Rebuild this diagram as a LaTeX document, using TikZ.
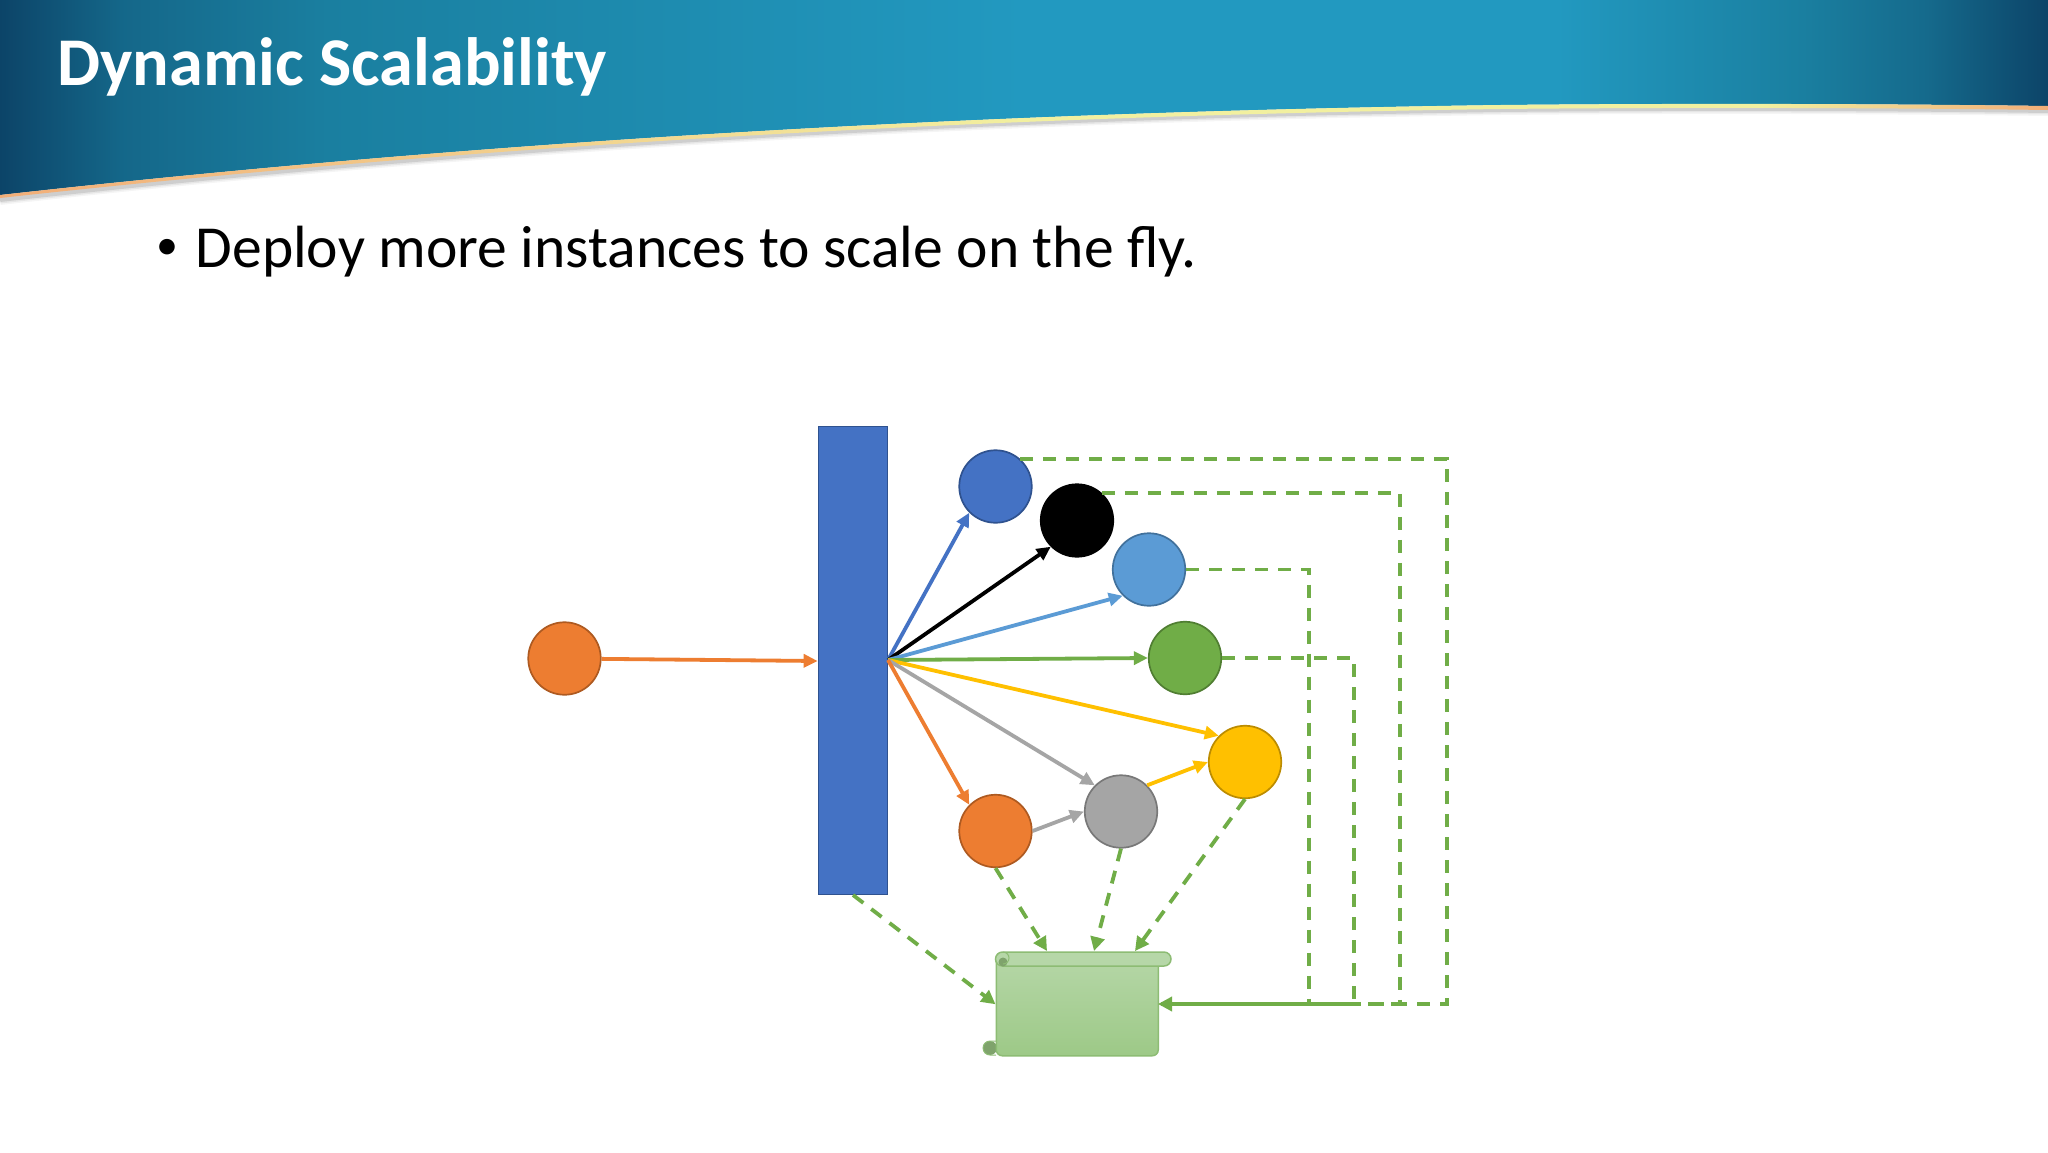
\documentclass[tikz,border=0pt]{standalone}
\usepackage{fontspec}
\setmainfont{Carlito}
\usetikzlibrary{arrows.meta,calc}
\definecolor{bandA}{HTML}{0C4468}
\definecolor{bandB}{HTML}{1A7FA0}
\definecolor{bandC}{HTML}{2299C0}
\definecolor{goldA}{HTML}{F2AE78}
\definecolor{goldB}{HTML}{F2F0A0}
\definecolor{cBlue}{HTML}{4472C4}
\definecolor{cBlueD}{HTML}{2F528F}
\definecolor{cSky}{HTML}{5B9BD5}
\definecolor{cSkyD}{HTML}{41719C}
\definecolor{cGreen}{HTML}{70AD47}
\definecolor{cGreenD}{HTML}{507E32}
\definecolor{cOrange}{HTML}{ED7D31}
\definecolor{cOrangeD}{HTML}{AE5A21}
\definecolor{cGray}{HTML}{A5A5A5}
\definecolor{cGrayD}{HTML}{787878}
\definecolor{cGold}{HTML}{FFC000}
\definecolor{cGoldD}{HTML}{BC8C00}
\definecolor{logT}{HTML}{B6D7A8}
\definecolor{logB}{HTML}{9DC987}
\definecolor{logE}{HTML}{8DBC74}
\definecolor{logC}{HTML}{7FA36C}
\pgfdeclarehorizontalshading{bandshade}{100bp}{color(0bp)=(bandA);color(25bp)=(bandA);color(28bp)=(bandB!60!bandA);color(33bp)=(bandB);color(50bp)=(bandC);color(63bp)=(bandC);color(69bp)=(bandB);color(72bp)=(bandB!65!bandA);color(75bp)=(bandA);color(100bp)=(bandA)}
\pgfdeclarehorizontalshading{goldshade}{100bp}{color(0bp)=(goldA);color(25bp)=(goldA);color(50bp)=(goldB);color(68bp)=(goldB);color(75bp)=(goldA);color(100bp)=(goldA)}
\tikzset{
  dot/.style={circle,minimum size=72.5pt,inner sep=0pt,line width=1.7pt},
  flow/.style={line width=3.8pt,-{Triangle[length=14pt,width=13pt]}},
  logflow/.style={line width=3.8pt,cGreen,dash pattern=on 13pt off 10pt,-{Triangle[length=14pt,width=14pt,sep=0pt]}},
  logline/.style={line width=3.8pt,cGreen,dash pattern=on 13pt off 10pt},
}
\begin{document}
\begin{tikzpicture}[x=1pt,y=-1pt]
\useasboundingbox (0,0) rectangle (2048,1152);
\fill[white] (0,0) rectangle (2048,1152);
% header band
\foreach \o/\op in {12/0.04,9/0.06,6/0.10}{
  \draw[black,opacity=\op,line width=\o pt] (0,199) .. controls (500,143) and (1000,116) .. (1500,109) .. controls (1700,107) and (1900,108) .. (2048,110);
}
\shade[shading=bandshade] (0,0) -- (2048,0) -- (2048,106) .. controls (1900,104) and (1700,103) .. (1500,105) .. controls (1000,112) and (500,139) .. (0,195) -- cycle;
\shade[shading=goldshade] (0,195) .. controls (500,139) and (1000,112) .. (1500,105) .. controls (1700,103) and (1900,104) .. (2048,106) -- (2048,110) .. controls (1900,108) and (1700,107) .. (1500,109) .. controls (1000,116) and (500,143) .. (0,198) -- cycle;
\node[anchor=base west,inner sep=0pt,text=white,font=\fontsize{68.3}{74}\selectfont\bfseries] (title) at (57,85) {Dynamic Scalability};
\node[anchor=base west,inner sep=0pt,text=black,font=\fontsize{44}{50}\selectfont] (bullet) at (156,259) {•};
\node[anchor=base west,inner sep=0pt,text=black,font=\fontsize{59.6}{66}\selectfont] (body) at (195.5,267) {Deploy more instances to scale on the fly.};
% nodes
\node[draw=cBlueD,fill=cBlue,line width=1.7pt,minimum width=69pt,minimum height=468pt,inner sep=0pt] (bar) at (853,660.5) {};
\node[dot,draw=cOrangeD,fill=cOrange] (src) at (564.5,658.5) {};
\node[dot,draw=cBlueD,fill=cBlue] (n1) at (995.5,486.5) {};
\node[dot,draw=black,fill=black] (n2) at (1077,520.5) {};
\node[dot,draw=cSkyD,fill=cSky] (n3) at (1149,569.5) {};
\node[dot,draw=cGreenD,fill=cGreen] (n4) at (1185,658) {};
\node[dot,draw=cGoldD,fill=cGold] (n5) at (1245,762) {};
\node[dot,draw=cGrayD,fill=cGray] (n6) at (1121,811.5) {};
\node[dot,draw=cOrangeD,fill=cOrange] (n7) at (995.5,831) {};
% log scroll
\fill[logC] (990,1048) circle (7pt);
\node[draw=logE,line width=1.5pt,top color=logT,bottom color=logB,rounded corners=6pt,minimum width=162pt,minimum height=103pt,inner sep=0pt,anchor=north west] (log) at (995.5,952) {};
\draw[logE,line width=1.5pt,fill=logT,rounded corners=7pt] (995.5,952) rectangle (1171,966);
\fill[logC] (1003,962) circle (4.5pt);
\draw[logE,line width=1pt] (1003,952) arc (90:-90:6pt);
\draw[logE,line width=1pt] (996,1041) -- (990,1041) arc (90:270:7pt) -- (996,1055);
\coordinate (fan) at (888,660);
\coordinate (c1) at (1447,1004);
\coordinate (c2) at (1400,1004);
\coordinate (c3) at (1354,1004);
\coordinate (c4) at (1309,1004);
\coordinate (logR) at (1158,1004);
\coordinate (barB) at (853,895);
% solid arrows
\draw[flow,cOrange] (src) -- (bar.west |- 0,661);
\draw[flow,cBlue] (fan) -- (n1.225);
\draw[flow,black] (fan) -- (n2.225);
\draw[flow,cSky] (fan) -- (n3.225);
\draw[flow,cGreen] (fan) -- (n4.west);
\draw[flow,cGold] (fan) -- (n5.135);
\draw[flow,cGray] (fan) -- (n6.135);
\draw[flow,cOrange] (fan) -- (n7.135);
\draw[flow,cGray] (n7.east) -- (n6.west);
\draw[flow,cGold] (n6.45) -- (n5.west);
% dashed log lines
\draw[logline] (n1.48) -| (c1) -- (logR);
\draw[logline] (n2.48) -| (c2) -- (logR);
\draw[logline] (n3.east) -| (c4) -- (logR);
\draw[logflow] (n4.east) -| (c3) -- (logR);
\draw[logflow] (barB) -- (log.west);
\draw[logflow] (n7.south) -- (1047,951);
\draw[logflow] (n6.south) -- (1094,951);
\draw[logflow] (n5.south) -- (1135,951);
\end{tikzpicture}
\end{document}
